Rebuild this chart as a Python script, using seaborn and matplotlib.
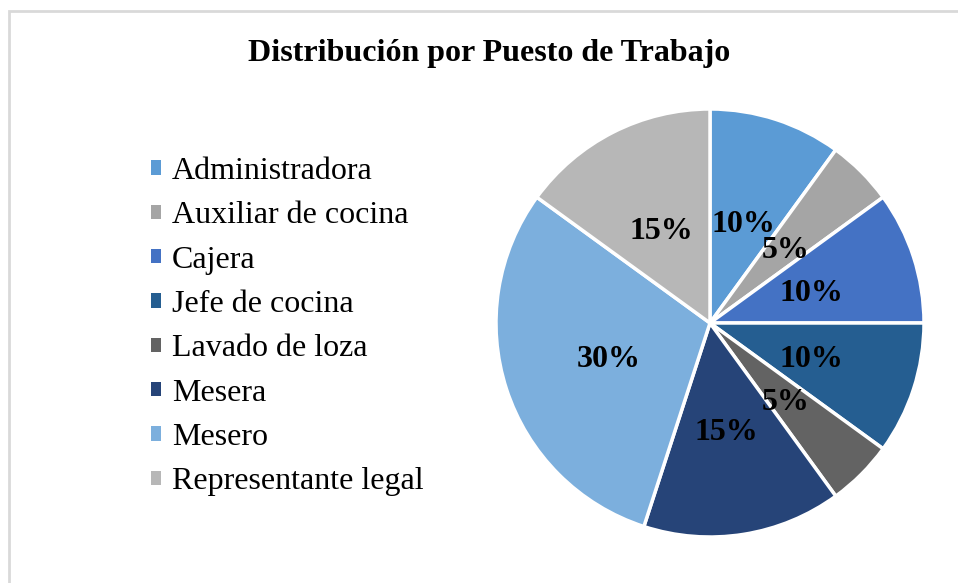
import matplotlib
matplotlib.use("Agg")
import matplotlib.pyplot as plt
import matplotlib.patches as mpatches
import seaborn as sns

puestos = ["Administradora", "Auxiliar de cocina", "Cajera", "Jefe de cocina",
           "Lavado de loza", "Mesera", "Mesero", "Representante legal"]
porcentajes = [10, 5, 10, 10, 5, 15, 30, 15]
colores = ["#5B9BD5", "#A5A5A5", "#4472C4", "#255E91",
           "#636363", "#264478", "#7CAFDD", "#B7B7B7"]

sns.set_theme(style="white")
plt.rcParams["font.family"] = ["Liberation Serif", "DejaVu Serif"]
plt.rcParams["text.color"] = "black"

W, H = 958, 583
fig = plt.figure(figsize=(W / 100, H / 100), dpi=100)
fig.patch.set_facecolor("white")

# marco gris del area del grafico
fig.patches.append(mpatches.Rectangle((8.5 / W, -0.1), 1.2, (H - 11.5) / H + 0.1,
                                      transform=fig.transFigure, fill=False,
                                      edgecolor="#D9D9D9", linewidth=2))

# pie
cx, cy, r = 710, H - 323, 214
ax = fig.add_axes([(cx - r) / W, (cy - r) / H, 2 * r / W, 2 * r / H])
wedges, texts = ax.pie(porcentajes, colors=colores, startangle=90, counterclock=False,
                       radius=1, labels=[f"{p}%" for p in porcentajes], labeldistance=0.5,
                       wedgeprops=dict(edgecolor="white", linewidth=2.5))
for t in texts:
    t.set_fontsize(23)
    t.set_fontweight("bold")
    t.set_color("black")
    t.set_ha("center")
    t.set_va("center_baseline")
ax.set_xlim(-1, 1)
ax.set_ylim(-1, 1)
ax.set_aspect("equal")
ax.axis("off")

fig.text(489 / W, 1 - 53 / H, "Distribución por Puesto de Trabajo", color="black",
         ha="center", va="center", fontsize=23, fontweight="bold")

handles = [mpatches.Patch(facecolor=c, edgecolor="none") for c in colores]
fig.legend(handles, puestos, loc="upper left", bbox_to_anchor=(151 / W, 1 - 157 / H),
           frameon=False, fontsize=23, handlelength=0.3, handleheight=0.3,
           handletextpad=0.35, labelspacing=0.48, borderpad=0, borderaxespad=0,
           labelcolor="black")

plt.savefig("out.png", dpi=100)
